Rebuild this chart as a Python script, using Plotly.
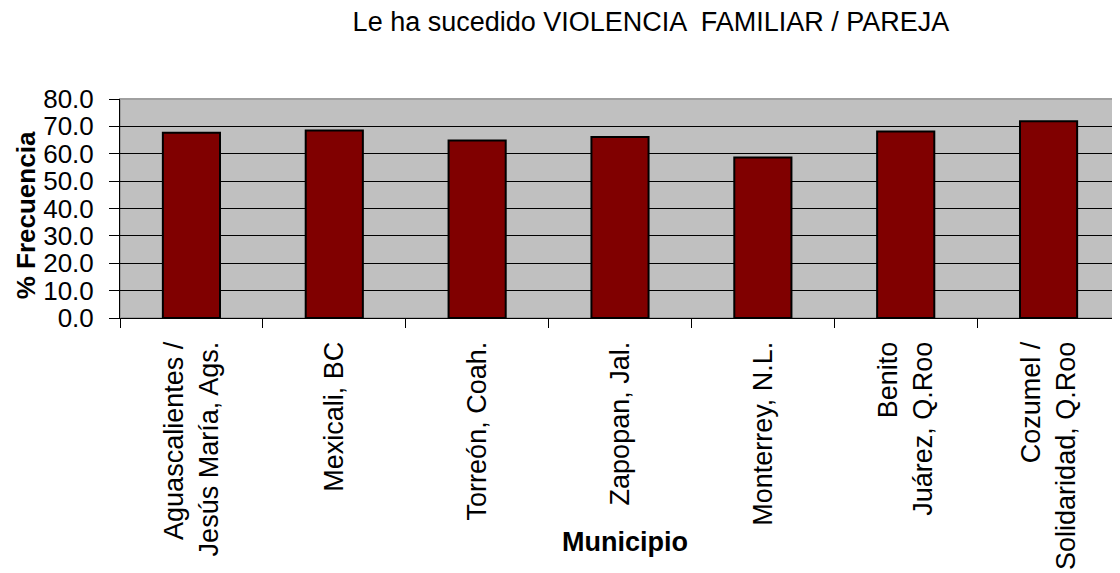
"""
Bar chart: Le ha sucedido VIOLENCIA FAMILIAR / PAREJA
"""

import plotly.graph_objects as go

municipios = [
    "Aguascalientes /<br>Jesús María, Ags.",
    "Mexicali, BC",
    "Torreón, Coah.",
    "Zapopan, Jal.",
    "Monterrey, N.L.",
    "Benito<br>Juárez, Q.Roo",
    "Cozumel /<br>Solidaridad, Q.Roo",
]
frecuencia = [67.7, 68.5, 64.8, 66.1, 58.6, 68.1, 71.9]
y_ticks = [0, 10, 20, 30, 40, 50, 60, 70, 80]

font_family = "Arial, Liberation Sans, sans-serif"

# page body has an 8px margin, so the figure is sized/offset to compensate
fig = go.Figure(
    go.Bar(
        x=municipios,
        y=frecuencia,
        marker=dict(color="#800000", line=dict(color="#000000", width=2)),
        hoverinfo="x+y",
    )
)

fig.update_layout(
    width=1112,
    height=565,
    margin=dict(l=112, r=0, t=91, b=255),
    paper_bgcolor="white",
    plot_bgcolor="#C0C0C0",
    bargap=0.6,
    showlegend=False,
    font=dict(family=font_family, color="black"),
    title=dict(
        text="Le ha sucedido VIOLENCIA  FAMILIAR / PAREJA",
        x=643 / 1112,
        xanchor="center",
        xref="container",
        y=1 - 4 / 565,
        yanchor="top",
        yref="container",
        pad=dict(t=0),
        font=dict(size=27, color="black"),
    ),
    shapes=[
        dict(
            type="rect", xref="paper", yref="paper",
            x0=0, x1=1, y0=0, y1=1,
            line=dict(color="#A0A0A0", width=2),
            layer="below",
        )
    ],
    annotations=[
        dict(
            text="<b>% Frecuencia</b>",
            xref="paper", yref="paper",
            x=-0.094, y=0.469,
            xanchor="center", yanchor="middle",
            textangle=-90, showarrow=False,
            font=dict(size=26, color="black"),
        ),
        dict(
            text="<b>Municipio</b>",
            xref="paper", yref="paper",
            x=0.505, y=-(541 - 317.5) / 218.5,
            xanchor="center", yanchor="middle",
            showarrow=False,
            font=dict(size=27, color="black"),
        ),
    ],
)

fig.update_xaxes(
    tickangle=-90,
    tickson="boundaries",
    ticks="outside",
    ticklen=9,
    tickcolor="black",
    showline=True,
    linecolor="black",
    linewidth=1,
    showgrid=False,
    automargin=False,
    ticklabelstandoff=12,
    tickfont=dict(size=27, color="black"),
)

fig.update_yaxes(
    range=[0, 80],
    tickvals=y_ticks,
    tickformat=".1f",
    ticks="outside",
    ticklen=10,
    tickcolor="black",
    showline=True,
    linecolor="black",
    linewidth=1,
    showgrid=True,
    gridcolor="#000000",
    gridwidth=1,
    zeroline=False,
    automargin=False,
    ticklabelstandoff=10,
    tickfont=dict(size=26, color="black"),
)

fig.write_html("out.html")
